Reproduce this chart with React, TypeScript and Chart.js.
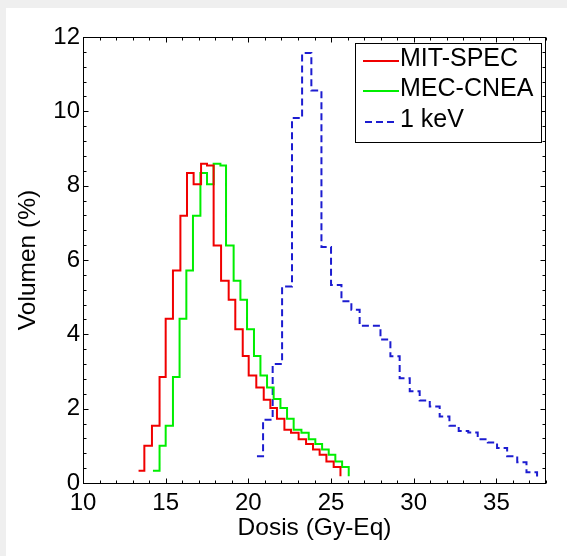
import React, { useEffect, useRef } from "react";
import { Chart, registerables } from "chart.js";

Chart.register(...registerables);

// ---- data ----
const X_TICKS = [10, 15, 20, 25, 30, 35];
const Y_TICKS = [0, 2, 4, 6, 8, 10, 12];
const X_TITLE = "Dosis (Gy-Eq)";
const Y_TITLE = "Volumen (%)";
const SERIES_NAMES = ["MIT-SPEC", "MEC-CNEA", "1 keV"];

const mitDose = [13.36, 13.71, 14.17, 14.63, 15.0, 15.44, 15.89, 16.29, 16.69, 17.14, 17.5, 17.9, 18.35, 18.81, 19.21, 19.66, 20.02, 20.48, 20.93, 21.33, 21.73, 22.18, 22.58, 23.04, 23.49, 23.91, 24.31, 24.72, 25.16, 25.57];
const mitVol = [0.33, 1.0, 1.54, 2.85, 4.42, 5.72, 7.19, 8.34, 8.04, 8.59, 8.54, 6.39, 5.44, 4.93, 4.14, 3.42, 2.89, 2.57, 2.24, 2.02, 1.73, 1.43, 1.35, 1.18, 1.05, 0.9, 0.76, 0.58, 0.43, 0.18];

const mecDose = [14.23, 14.63, 15.0, 15.44, 15.84, 16.25, 16.65, 17.1, 17.5, 17.9, 18.31, 18.65, 19.11, 19.52, 19.92, 20.34, 20.73, 21.13, 21.53, 21.94, 22.34, 22.74, 23.21, 23.65, 24.05, 24.46, 24.86, 25.26, 25.67, 26.07];
const mecVol = [0.33, 1.0, 1.54, 2.85, 4.42, 5.72, 7.19, 8.34, 8.04, 8.59, 8.54, 6.39, 5.44, 4.93, 4.14, 3.42, 2.89, 2.57, 2.26, 2.02, 1.73, 1.43, 1.35, 1.18, 1.05, 0.9, 0.76, 0.58, 0.43, 0.18];

const kevDose = [20.52, 20.89, 21.47, 22.04, 22.64, 23.25, 23.81, 24.42, 25.0, 25.63, 26.23, 26.73, 27.36, 27.99, 28.59, 29.15, 29.76, 30.36, 30.97, 31.57, 32.16, 32.72, 33.3, 33.87, 34.48, 35.04, 35.65, 36.26, 36.82, 37.46];
const kevVol = [0.72, 1.7, 3.2, 5.29, 9.82, 11.57, 10.56, 6.35, 5.33, 4.89, 4.66, 4.23, 4.23, 3.86, 3.41, 2.82, 2.47, 2.22, 2.06, 1.79, 1.54, 1.4, 1.36, 1.18, 1.09, 0.94, 0.72, 0.56, 0.29, 0.09];

// ---- styling ----
const FONT_FAMILY = '"Liberation Sans", Arial, Helvetica, sans-serif';
const COLORS = ["#f00000", "#00ee00", "#1c1cd0"];

const toPoints = (xs: number[], ys: number[]) => xs.map((x, i) => ({ x, y: ys[i] }));

const framePlugin = {
  id: "matlabFrame",
  afterDraw(chart: any) {
    const { ctx, chartArea: a, scales } = chart;
    const xs = scales.x;
    const ys = scales.y;
    const L = Math.round(a.left) + 0.5;
    const R = Math.round(a.right) - 0.5;
    const T = Math.round(a.top) + 0.5;
    const B = Math.round(a.bottom) + 0.5;
    ctx.save();
    ctx.strokeStyle = "#000";
    ctx.lineWidth = 1;
    ctx.beginPath();
    for (let v = xs.min; v <= xs.max + 1e-9; v += 1) {
      const major = X_TICKS.includes(v);
      const len = major ? 5 : 3;
      const px = Math.round(xs.getPixelForValue(v)) + 0.5;
      ctx.moveTo(px, B);
      ctx.lineTo(px, B - len);
      ctx.moveTo(px, T);
      ctx.lineTo(px, T + len);
    }
    for (let k = 0; k <= 30; k++) {
      const v = k * 0.4;
      const major = k % 5 === 0;
      const len = major ? 5 : 3;
      const py = Math.round(ys.getPixelForValue(v)) + 0.5;
      ctx.moveTo(L, py);
      ctx.lineTo(L + len, py);
      ctx.moveTo(R, py);
      ctx.lineTo(R - len, py);
    }
    ctx.stroke();
    ctx.strokeRect(L, T, R - L, B - T);
    ctx.restore();

    // legend box
    const right = a.right - 5;
    const top = a.top + 6;
    const w = 186;
    const h = 99;
    const left = right - w;
    ctx.save();
    ctx.fillStyle = "#fff";
    ctx.fillRect(left, top, w, h);
    ctx.strokeStyle = "#000";
    ctx.lineWidth = 1;
    ctx.strokeRect(Math.round(left) + 0.5, Math.round(top) + 0.5, w, h);
    chart.data.datasets.forEach((ds: any, i: number) => {
      const y = Math.round(top + 17.5 + i * 30.6);
      ctx.strokeStyle = ds.borderColor;
      ctx.lineWidth = 2;
      ctx.setLineDash(ds.borderDash || []);
      ctx.beginPath();
      if (ds.borderDash) {
        ctx.moveTo(left + 10, y);
        ctx.lineTo(left + 41, y);
      } else {
        ctx.moveTo(left + 8, y);
        ctx.lineTo(left + 44, y);
      }
      ctx.stroke();
      ctx.setLineDash([]);
      ctx.fillStyle = "#000";
      ctx.font = `25px ${FONT_FAMILY}`;
      ctx.textBaseline = "middle";
      ctx.textAlign = "left";
      ctx.fillText(ds.label, left + 45, y - 2);
    });
    ctx.restore();
  },
};

export default function App() {
  const ref = useRef<HTMLCanvasElement>(null);

  useEffect(() => {
    document.body.style.margin = "0";
    const canvas = ref.current!;
    const font = { family: FONT_FAMILY, size: 24 };
    const titleFont = { family: FONT_FAMILY, size: 24.5 };
    const chart = new Chart(canvas, {
      type: "line",
      data: {
        datasets: [
          {
            label: SERIES_NAMES[0],
            data: toPoints(mitDose, mitVol),
            borderColor: COLORS[0],
            borderWidth: 2,
            pointRadius: 0,
            stepped: true,
            fill: false,
          },
          {
            label: SERIES_NAMES[1],
            data: toPoints(mecDose, mecVol),
            borderColor: COLORS[1],
            borderWidth: 2,
            pointRadius: 0,
            stepped: true,
            fill: false,
          },
          {
            label: SERIES_NAMES[2],
            data: toPoints(kevDose, kevVol),
            borderColor: COLORS[2],
            borderWidth: 2,
            borderDash: [7, 4],
            pointRadius: 0,
            stepped: true,
            fill: false,
          },
        ],
      } as any,
      options: {
        responsive: false,
        devicePixelRatio: 1,
        animation: false,
        layout: { padding: { left: 0, right: 21, top: 37, bottom: 0 } },
        plugins: {
          legend: { display: false },
          tooltip: { enabled: false },
        },
        scales: {
          x: {
            type: "linear",
            min: 10,
            max: 38,
            afterBuildTicks: (s: any) => {
              s.ticks = X_TICKS.map((v) => ({ value: v }));
            },
            afterFit: (s: any) => {
              s.height = 73;
            },
            grid: { display: false, drawTicks: false },
            border: { display: false },
            ticks: {
              color: "#000",
              font,
              padding: 6,
              maxRotation: 0,
              autoSkip: false,
              callback: (v: any) => String(v),
            },
            title: {
              display: true,
              text: X_TITLE,
              color: "#000",
              font: titleFont,
              padding: { top: 0, bottom: 13 },
            },
          },
          y: {
            type: "linear",
            min: 0,
            max: 12,
            afterBuildTicks: (s: any) => {
              s.ticks = Y_TICKS.map((v) => ({ value: v }));
            },
            afterFit: (s: any) => {
              s.width = 83;
            },
            grid: { display: false, drawTicks: false },
            border: { display: false },
            ticks: {
              color: "#000",
              font,
              padding: 3,
              autoSkip: false,
              callback: (v: any) => String(v),
            },
            title: {
              display: true,
              text: Y_TITLE,
              color: "#000",
              font: titleFont,
              padding: { top: 14, bottom: 0 },
            },
          },
        },
      } as any,
      plugins: [framePlugin],
    });
    return () => chart.destroy();
  }, []);

  return (
    <div style={{ position: "relative", width: 567, height: 556, background: "#efefef", overflow: "hidden" }}>
      <div style={{ position: "absolute", left: 6, top: 8, right: 0, bottom: 0, background: "#fff" }} />
      <canvas
        ref={ref}
        width={567}
        height={556}
        style={{ position: "absolute", left: 0, top: 0, width: 567, height: 556 }}
      />
    </div>
  );
}
